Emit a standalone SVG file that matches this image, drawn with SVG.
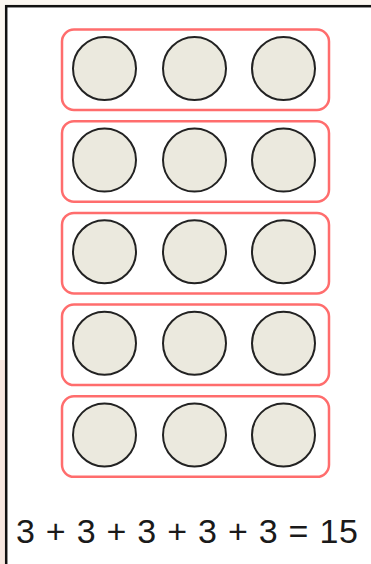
<svg xmlns="http://www.w3.org/2000/svg" width="371" height="564" viewBox="0 0 371 564">
  <style>
    .row { fill: none; stroke: #ff6d6d; stroke-width: 2.5; }
    .dot { fill: #ebe9de; stroke: #222; stroke-width: 2; }
    .eq { font-family: "Liberation Sans", Arial, sans-serif; font-size: 34px; fill: #1a1a1a; }
  </style>
  <rect x="0" y="0" width="371" height="564" fill="#fbf7f1"/>
  <rect x="0" y="360" width="6" height="204" fill="#f7e7e0"/>
  <rect x="6.2" y="6.2" width="400" height="600" fill="#ffffff" stroke="#111" stroke-width="2.5"/>
  <g id="row1">
    <rect class="row" x="62" y="29.5" width="267" height="80.5" rx="12"/>
    <circle class="dot" cx="104.5" cy="68.5" r="31.5"/>
    <circle class="dot" cx="194.5" cy="68.5" r="31.5"/>
    <circle class="dot" cx="283.5" cy="68.5" r="31.5"/>
  </g>
  <g id="row2">
    <rect class="row" x="62" y="121.2" width="267" height="80.5" rx="12"/>
    <circle class="dot" cx="104.5" cy="160.1" r="31.5"/>
    <circle class="dot" cx="194.5" cy="160.1" r="31.5"/>
    <circle class="dot" cx="283.5" cy="160.1" r="31.5"/>
  </g>
  <g id="row3">
    <rect class="row" x="62" y="212.9" width="267" height="80.5" rx="12"/>
    <circle class="dot" cx="104.5" cy="251.7" r="31.5"/>
    <circle class="dot" cx="194.5" cy="251.7" r="31.5"/>
    <circle class="dot" cx="283.5" cy="251.7" r="31.5"/>
  </g>
  <g id="row4">
    <rect class="row" x="62" y="304.6" width="267" height="80.5" rx="12"/>
    <circle class="dot" cx="104.5" cy="343.3" r="31.5"/>
    <circle class="dot" cx="194.5" cy="343.3" r="31.5"/>
    <circle class="dot" cx="283.5" cy="343.3" r="31.5"/>
  </g>
  <g id="row5">
    <rect class="row" x="62" y="396.3" width="267" height="80.5" rx="12"/>
    <circle class="dot" cx="104.5" cy="434.9" r="31.5"/>
    <circle class="dot" cx="194.5" cy="434.9" r="31.5"/>
    <circle class="dot" cx="283.5" cy="434.9" r="31.5"/>
  </g>
  <g id="connectors"/>
  <text id="equation" class="eq" x="16" y="543" textLength="342" lengthAdjust="spacing">3 + 3 + 3 + 3 + 3 = 15</text>
</svg>
